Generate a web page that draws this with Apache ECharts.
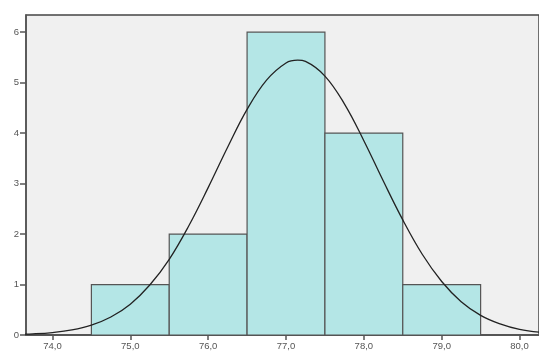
<!DOCTYPE html>
<html><head><meta charset="utf-8">
<script src="https://cdn.jsdelivr.net/npm/echarts@6/dist/echarts.min.js"></script>
<style>html,body{margin:0;padding:0;background:#fff}#c{width:539px;height:356px}</style>
</head><body><div id="c"></div>
<script>
const binStart = [74.5, 75.5, 76.5, 77.5, 78.5];
const binEnd   = [75.5, 76.5, 77.5, 78.5, 79.5];
const counts   = [1, 2, 6, 4, 1];
const curveX = [73.5,73.75,74.0,74.25,74.5,74.75,75.0,75.25,75.5,75.75,76.0,76.25,76.5,76.75,77.0,77.15,77.25,77.5,77.75,78.0,78.25,78.5,78.75,79.0,79.25,79.5,79.75,80.0,80.25];
const curveY = [0.01,0.023,0.049,0.10,0.195,0.356,0.61,0.99,1.50,2.16,2.92,3.72,4.47,5.05,5.39,5.445,5.42,5.13,4.58,3.85,3.05,2.28,1.60,1.06,0.66,0.39,0.22,0.11,0.056];
const xTicks = [74, 75, 76, 77, 78, 79, 80];
const yTicks = [0, 1, 2, 3, 4, 5, 6];

const chart = echarts.init(document.getElementById('c'), null, {renderer: 'canvas'});
const fontFamily = 'Liberation Sans, Arial, sans-serif';
chart.setOption({
  animation: false,
  grid: {left: 26, top: 15, right: -3, bottom: 21, show: true, backgroundColor: '#f0f0f0', borderColor: '#444', borderWidth: 1.5},
  xAxis: {
    type: 'value', min: 73.66, max: 80.25,
    axisLine: {show: true, onZero: false, lineStyle: {color: '#555', width: 2}},
    axisTick: {show: true, length: 5, customValues: xTicks, lineStyle: {color: '#555', width: 1.5}},
    axisLabel: {customValues: xTicks, color: '#555', fontSize: 9.5, fontFamily, margin: 6,
      formatter: v => v.toFixed(1).replace('.', ',')},
    splitLine: {show: false}
  },
  yAxis: {
    type: 'value', min: 0, max: 6.34,
    axisLine: {show: true, lineStyle: {color: '#555', width: 1.5}},
    axisTick: {show: true, length: 6, customValues: yTicks, lineStyle: {color: '#555', width: 1.5}},
    axisLabel: {customValues: yTicks, color: '#555', fontSize: 9.5, fontFamily, margin: 7},
    splitLine: {show: false}
  },
  series: [
    {
      type: 'custom',
      data: counts.map((c, i) => [binStart[i], binEnd[i], c]),
      renderItem: function (params, api) {
        const p0 = api.coord([api.value(0), 0]);
        const p1 = api.coord([api.value(1), api.value(2)]);
        return {
          type: 'rect',
          shape: {x: p0[0], y: p1[1], width: p1[0] - p0[0], height: p0[1] - p1[1]},
          style: {fill: '#b4e6e6', stroke: '#555', lineWidth: 1.2}
        };
      },
      z: 2
    },
    {
      type: 'line',
      data: curveX.map((x, i) => [x, curveY[i]]),
      smooth: 0.4,
      showSymbol: false,
      lineStyle: {color: '#222', width: 1.3},
      clip: true,
      z: 3
    }
  ]
});
</script></body></html>
